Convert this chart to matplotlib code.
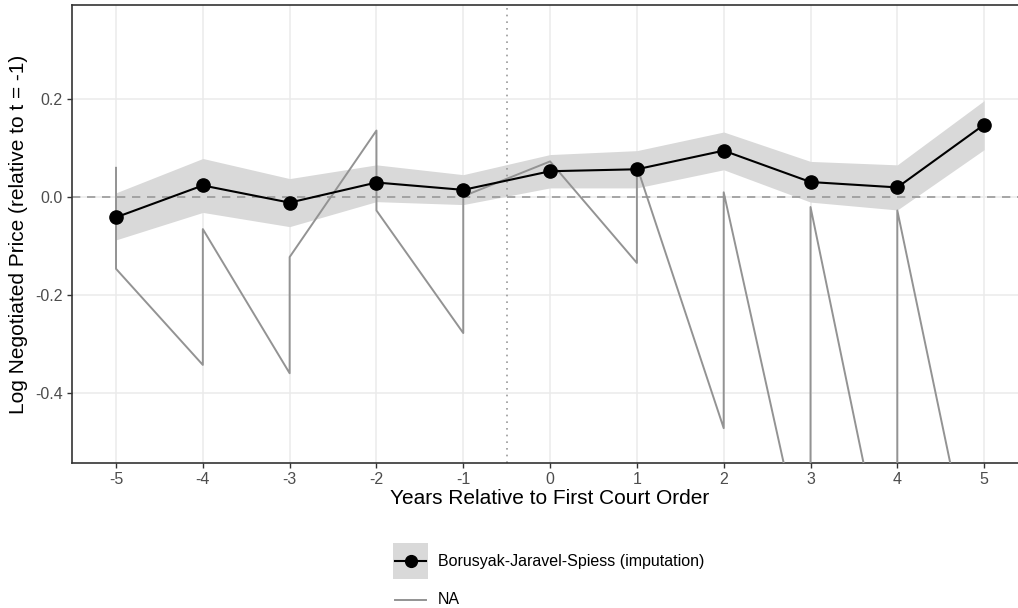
import numpy as np
import matplotlib.pyplot as plt
from matplotlib.lines import Line2D
from matplotlib.patches import Rectangle
from matplotlib.legend_handler import HandlerBase

plt.rcParams['font.family'] = ['Liberation Sans', 'DejaVu Sans']

# event-time estimates (imputation estimator)
years = [-5, -4, -3, -2, -1, 0, 1, 2, 3, 4, 5]
est = [-0.042, 0.023, -0.012, 0.029, 0.014, 0.052, 0.056, 0.094, 0.030, 0.019, 0.147]
ci_lo = [-0.088, -0.032, -0.061, -0.010, -0.016, 0.018, 0.018, 0.055, -0.011, -0.027, 0.096]
ci_hi = [0.008, 0.078, 0.037, 0.065, 0.045, 0.086, 0.094, 0.132, 0.072, 0.065, 0.196]

# unlabelled series (NA group), drawn as one path
na_x = [-5, -5, -4, -4, -3, -3, -2, -2, -1, -1, 0, 1, 1, 2, 2, 3, 3, 4, 4, 5]
na_y = [0.059, -0.147, -0.343, -0.066, -0.360, -0.123, 0.135, -0.028, -0.278, 0.001,
        0.072, -0.135, 0.062, -0.472, 0.009, -0.790, -0.021, -0.876, -0.028, -0.873]

yticks = [-0.4, -0.2, 0.0, 0.2]
ylabels = ['-0.4', '-0.2', '0.0', '0.2']


class KeyHandler(HandlerBase):
    # square key: optional grey fill, line across, optional point in the middle
    def __init__(self, fill, marker):
        super().__init__()
        self.fill = fill
        self.marker = marker

    def create_artists(self, legend, orig, xd, yd, w, h, fs, trans):
        arts = []
        x0 = -xd
        y0 = -yd
        if self.fill:
            arts.append(Rectangle((x0, y0), w, h, facecolor='#D9D9D9',
                                  edgecolor='none', transform=trans))
        yc = y0 + h / 2
        ln = Line2D([x0 + 1.5, x0 + w - 1.5], [yc, yc], color=orig.get_color(),
                    lw=orig.get_linewidth(), transform=trans)
        arts.append(ln)
        if self.marker:
            arts.append(Line2D([x0 + w / 2], [yc], color=orig.get_color(), marker='o',
                               markersize=8.5, ls='none', transform=trans))
        return arts


fig = plt.figure(figsize=(10.18, 6.08), dpi=100)
ax = fig.add_axes([72 / 1018, 145 / 608, 946 / 1018, 458 / 608])

ax.set_xlim(-5.507, 5.39)
ax.set_ylim(-0.543, 0.391)
ax.set_xticks(years)
ax.set_xticklabels([str(y) for y in years])
ax.set_yticks(yticks)
ax.set_yticklabels(ylabels)
ax.grid(True, color='#EBEBEB', lw=1.1, zorder=0)
ax.set_axisbelow(True)

for s in ['left', 'bottom', 'top']:
    ax.spines[s].set_color('#333333')
    ax.spines[s].set_linewidth(1.2)
ax.spines['right'].set_visible(False)
ax.tick_params(colors='#333333', labelcolor='#4D4D4D', labelsize=11.5, length=3.5, width=1.0, pad=3)

ax.fill_between(years, ci_lo, ci_hi, color='#D9D9D9', lw=0, zorder=1)
ax.axhline(0, color='#999999', ls=(0, (5, 4)), lw=1.2, zorder=2)
ax.axvline(-0.5, color='#999999', ls=(0, (1, 3)), lw=1.2, zorder=2)
na_line, = ax.plot(na_x, na_y, color='#939393', lw=1.4, zorder=3)
est_line, = ax.plot(years, est, color='black', lw=1.5, marker='o', markersize=9.5, zorder=4)

ax.set_xlabel('Years Relative to First Court Order', fontsize=15)
ax.xaxis.set_label_coords((550 - 72) / 946, -0.056)
ax.set_ylabel('Log Negotiated Price (relative to t = -1)', fontsize=15, labelpad=5)

fig.legend([est_line, na_line], ['Borusyak-Jaravel-Spiess (imputation)', 'NA'],
           handler_map={est_line: KeyHandler(True, True), na_line: KeyHandler(False, False)},
           loc='upper left', bbox_to_anchor=(393 / 1018, 1 - 543 / 608),
           frameon=False, fontsize=11.5, handlelength=2.2, handleheight=3.1,
           labelspacing=0.15, handletextpad=0.6, borderpad=0, borderaxespad=0)

fig.savefig('out.png', dpi=100)
